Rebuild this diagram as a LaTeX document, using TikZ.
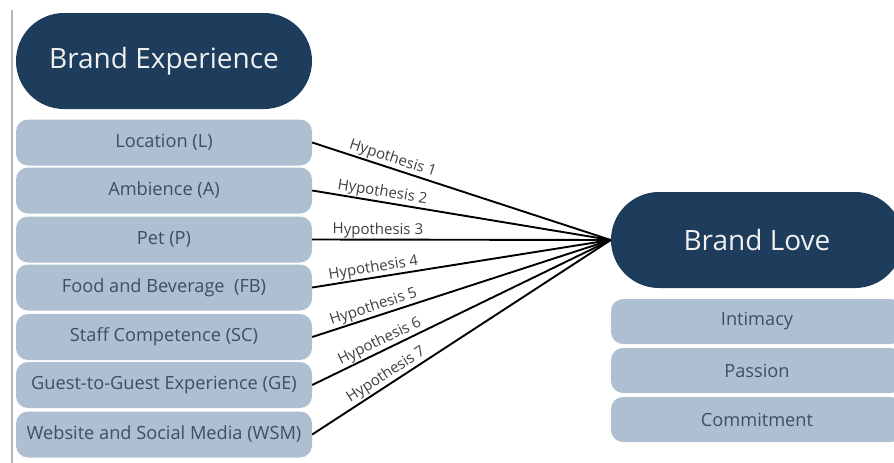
\documentclass[tikz,border=0pt]{standalone}
\usepackage{fontspec}
\setmainfont{Open Sans}
\definecolor{navy}{HTML}{1E3D5C}
\definecolor{pale}{HTML}{ADBFD0}
\definecolor{paletext}{HTML}{3A5068}
\definecolor{hyptext}{HTML}{404040}
\definecolor{rule}{HTML}{B4B4B4}
\tikzset{
  pill/.style={fill=navy, text=white!94!black, rounded corners=48pt,
    minimum width=296pt, minimum height=96pt, inner sep=0pt, font=\fontsize{28}{32}\selectfont},
  item/.style={fill=pale, text=paletext, rounded corners=12pt,
    minimum width=296pt, minimum height=46pt, inner sep=0pt, font=\fontsize{18.2}{21}\selectfont},
  link/.style={line width=1.9pt, black},
  hyp/.style={sloped, above, inner sep=1pt, text=hyptext, font=\fontsize{15}{17}\selectfont}
}
\begin{document}
\begin{tikzpicture}[x=1pt,y=-1pt]
\useasboundingbox (0,0) rectangle (894,463);
\clip (0,0) rectangle (894,463);
% left margin rule
\draw[rule, line width=1.5pt] (12,10) -- (12,463);

% brand experience and its dimensions
\node[pill] (be) at (164,61) {Brand Experience};
\node[item] (l)   at (164,142.5) {Location (L)};
\node[item] (a)   at (164,190.5) {Ambience (A)};
\node[item] (p)   at (164,239.5) {Pet (P)};
\node[item] (fb)  at (164,287.5) {Food and Beverage~~(FB)};
\node[item] (sc)  at (164,337) {Staff Competence (SC)};
\node[item] (ge)  at (164,385) {Guest-to-Guest Experience (GE)};
\node[item] (wsm) at (164,434.5) {Website and Social Media (WSM)};

% brand love and its dimensions
\node[pill, minimum width=292pt] (bl) at (757,240) {Brand Love};
\node[item, minimum width=292pt, minimum height=45pt] (int) at (757,321.5) {Intimacy};
\node[item, minimum width=292pt, minimum height=45pt] (pas) at (757,370.5) {Passion};
\node[item, minimum width=292pt, minimum height=45pt] (com) at (757,419.5) {Commitment};

% hypotheses
\draw[link] (l.east)   -- node[hyp, pos=0.26] {Hypothesis 1} (bl.west);
\draw[link] (a.east)   -- node[hyp, pos=0.23] {Hypothesis 2} (bl.west);
\draw[link] (p.east)   -- node[hyp, pos=0.22] {Hypothesis 3} (bl.west);
\draw[link] (fb.east)  -- node[hyp, pos=0.21] {Hypothesis 4} (bl.west);
\draw[link] (sc.east)  -- node[hyp, pos=0.215] {Hypothesis 5} (bl.west);
\draw[link] (ge.east)  -- node[hyp, pos=0.24] {Hypothesis 6} (bl.west);
\draw[link] (wsm.east) -- node[hyp, pos=0.265] {Hypothesis 7} (bl.west);
\end{tikzpicture}
\end{document}
